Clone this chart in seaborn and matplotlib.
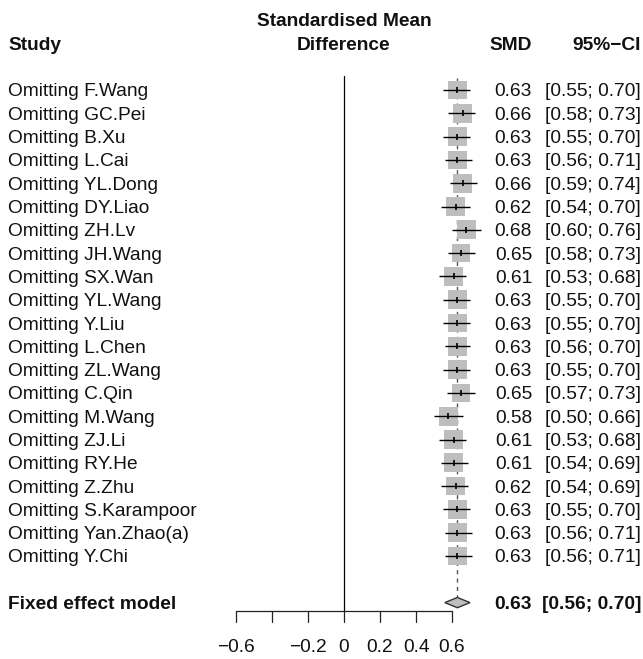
import numpy as np
import pandas as pd
import matplotlib
matplotlib.use("Agg")
import matplotlib.pyplot as plt
import seaborn as sns

# ---------------- data ----------------
studies = ["F.Wang", "GC.Pei", "B.Xu", "L.Cai", "YL.Dong", "DY.Liao", "ZH.Lv",
           "JH.Wang", "SX.Wan", "YL.Wang", "Y.Liu", "L.Chen", "ZL.Wang", "C.Qin",
           "M.Wang", "ZJ.Li", "RY.He", "Z.Zhu", "S.Karampoor", "Yan.Zhao(a)", "Y.Chi"]
smd = [0.63, 0.66, 0.63, 0.63, 0.66, 0.62, 0.68, 0.65, 0.61, 0.63, 0.63,
       0.63, 0.63, 0.65, 0.58, 0.61, 0.61, 0.62, 0.63, 0.63, 0.63]
ci_low = [0.55, 0.58, 0.55, 0.56, 0.59, 0.54, 0.60, 0.58, 0.53, 0.55, 0.55,
          0.56, 0.55, 0.57, 0.50, 0.53, 0.54, 0.54, 0.55, 0.56, 0.56]
ci_high = [0.70, 0.73, 0.70, 0.71, 0.74, 0.70, 0.76, 0.73, 0.68, 0.70, 0.70,
           0.70, 0.70, 0.73, 0.66, 0.68, 0.69, 0.69, 0.70, 0.71, 0.71]
fixed_label = "Fixed effect model"
fixed_est = 0.63
fixed_low = 0.56
fixed_high = 0.70
tick_values = [-0.6, -0.4, -0.2, 0.0, 0.2, 0.4, 0.6]
tick_labels = ["\u22120.6", "", "\u22120.2", "0", "0.2", "0.4", "0.6"]

# ---------------- style ----------------
sns.set_style("white")
plt.rcParams["font.family"] = ["Liberation Sans", "DejaVu Sans"]
FS = 13.8
TXT = "#111111"

W, H = 643, 659
fig = plt.figure(figsize=(W / 100, H / 100), dpi=100)
ax = fig.add_axes([0, 0, 1, 1])

# pixel -> data helpers (layout only)
X0_PX, X_SCALE = 344.0, 180.0      # x=0 pixel, pixels per unit
Y0_PX, ROW_PX = 90.0, 23.3         # first row pixel, pixels per row
def px2x(px):
    return (px - X0_PX) / X_SCALE
def px2y(px):
    return (px - Y0_PX) / ROW_PX

ax.set_xlim(px2x(0), px2x(W))
ax.set_ylim(px2y(H), px2y(0))
ax.axis("off")

n = len(studies)
df = pd.DataFrame({
    "study": studies, "smd": smd, "low": ci_low, "high": ci_high,
    "row": np.arange(n, dtype=float),
})
fixed_row = n + 1

# dashed line at fixed effect estimate
ax.plot([fixed_est, fixed_est], [-0.5, fixed_row - 0.25], color="#555555",
        lw=1.0, ls=(0, (3, 3)), zorder=1)

# squares
sns.scatterplot(data=df, x="smd", y="row", marker="s", s=180, color="#BEBEBE",
                edgecolor="none", linewidth=0, ax=ax, zorder=2, legend=False)
# confidence intervals
ax.hlines(df["row"], df["low"], df["high"], color="black", lw=1.0, zorder=3)
# point estimate tick
ax.scatter(df["smd"], df["row"], marker="|", s=16, color="black", lw=1.2, zorder=4)

# fixed effect diamond
dh = 0.22
ax.fill([fixed_low, fixed_est, fixed_high, fixed_est],
        [fixed_row, fixed_row - dh, fixed_row, fixed_row + dh],
        facecolor="#BEBEBE", edgecolor="#333333", lw=1.0, zorder=3)

# axis
axis_y = px2y(611)
tick_len = 11 / ROW_PX
ax.plot([0, 0], [-0.6, axis_y], color="black", lw=0.9, zorder=1)
ax.plot([tick_values[0], tick_values[-1]], [axis_y, axis_y], color="#222222", lw=0.9)
for tv, tl in zip(tick_values, tick_labels):
    ax.plot([tv, tv], [axis_y, axis_y + tick_len], color="#222222", lw=0.9)
    if tl:
        ax.text(tv, px2y(645), tl, ha="center", va="center_baseline",
                fontsize=FS, color=TXT)

# headers
x_study = px2x(8)
x_smd = px2x(532)
x_ci = px2x(641)
ax.text(0, px2y(20), "Standardised Mean", ha="center", va="center_baseline",
        fontsize=FS, fontweight="bold", color=TXT)
ax.text(0, px2y(43), "Difference", ha="center", va="center_baseline",
        fontsize=FS, fontweight="bold", color=TXT)
ax.text(x_study, px2y(43), "Study", ha="left", va="center_baseline",
        fontsize=FS, fontweight="bold", color=TXT)
ax.text(x_smd, px2y(43), "SMD", ha="right", va="center_baseline",
        fontsize=FS, fontweight="bold", color=TXT)
ax.text(x_ci, px2y(43), "95%\u2212CI", ha="right", va="center_baseline",
        fontsize=FS, fontweight="bold", color=TXT)

# study rows
for _, r in df.iterrows():
    ax.text(x_study, r["row"], f"Omitting {r['study']}", ha="left",
            va="center_baseline", fontsize=FS, color=TXT)
    ax.text(x_smd, r["row"], f"{r['smd']:.2f}", ha="right",
            va="center_baseline", fontsize=FS, color=TXT)
    ax.text(x_ci, r["row"], f"[{r['low']:.2f}; {r['high']:.2f}]", ha="right",
            va="center_baseline", fontsize=FS, color=TXT)

# summary row
ax.text(x_study, fixed_row, fixed_label, ha="left", va="center_baseline",
        fontsize=FS, fontweight="bold", color=TXT)
ax.text(x_smd, fixed_row, f"{fixed_est:.2f}", ha="right", va="center_baseline",
        fontsize=FS, fontweight="bold", color=TXT)
ax.text(x_ci, fixed_row, f"[{fixed_low:.2f}; {fixed_high:.2f}]", ha="right",
        va="center_baseline", fontsize=FS, fontweight="bold", color=TXT)

fig.savefig("out.png", dpi=100, facecolor="white")
